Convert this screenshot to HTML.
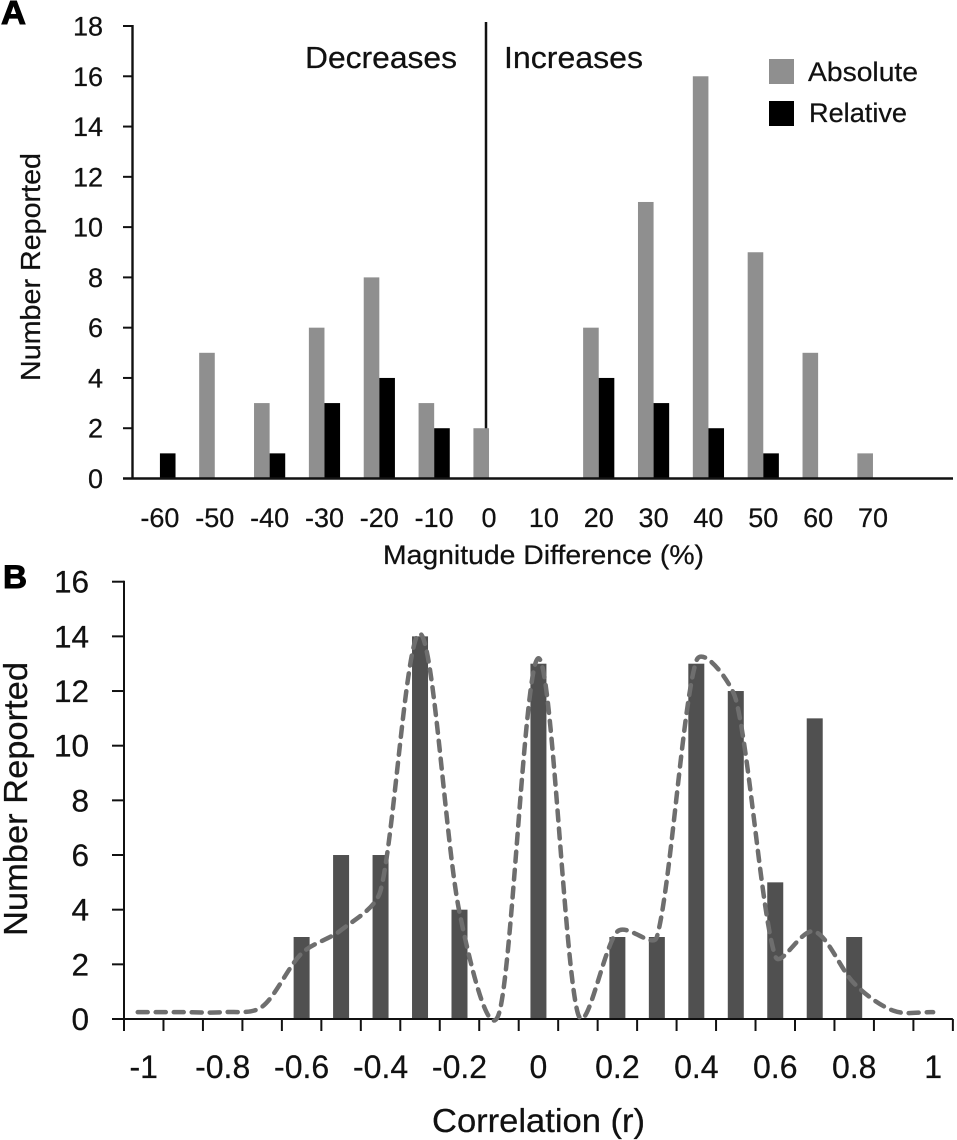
<!DOCTYPE html>
<html lang="en">
<head>
<meta charset="utf-8">
<title>Magnitude difference and correlation histograms</title>
<style>
  html, body { margin: 0; padding: 0; background: #fff; }
  svg { display: block; }
  text { font-family: "Liberation Sans", sans-serif; fill: #111; stroke: #111; stroke-width: 0.25px; }
</style>
</head>
<body>
<svg id="figure" xmlns="http://www.w3.org/2000/svg" width="957" height="1140" viewBox="0 0 957 1140">
  <rect x="0" y="0" width="957" height="1140" fill="#ffffff"/>

  <g id="panelA">
    <text x="1" y="24" font-size="33" font-weight="bold" style="stroke:#000;stroke-width:1px;fill:#000" textLength="25" lengthAdjust="spacingAndGlyphs">A</text>
    <text transform="translate(40 267) rotate(-90)" text-anchor="middle" font-size="28" textLength="228" lengthAdjust="spacingAndGlyphs">Number Reported</text>
    <text x="383" y="564" font-size="27" textLength="321" lengthAdjust="spacingAndGlyphs">Magnitude Difference (%)</text>
    <text x="305" y="68" font-size="31" textLength="152" lengthAdjust="spacingAndGlyphs">Decreases</text>
    <text x="504" y="68" font-size="31" textLength="139" lengthAdjust="spacingAndGlyphs">Increases</text>
    <line x1="486" y1="22" x2="486" y2="478" stroke="#111" stroke-width="2.5"/>
    <rect x="769" y="59" width="25" height="25" fill="#8f8f8f"/>
    <text x="808" y="81" font-size="27" textLength="110" lengthAdjust="spacingAndGlyphs">Absolute</text>
    <rect x="769" y="101" width="25" height="25" fill="#000000"/>
    <text x="809" y="122" font-size="27" textLength="98" lengthAdjust="spacingAndGlyphs">Relative</text>
  </g>

  <g id="panelB">
    <text x="3" y="588" font-size="32" font-weight="bold" style="stroke:#000;stroke-width:1px;fill:#000" textLength="24" lengthAdjust="spacingAndGlyphs">B</text>
    <text transform="translate(27 799) rotate(-90)" text-anchor="middle" font-size="33" textLength="274" lengthAdjust="spacingAndGlyphs">Number Reported</text>
    <text x="432" y="1132" font-size="33" textLength="213" lengthAdjust="spacingAndGlyphs">Correlation (r)</text>
  </g>
</svg>

<script>
// Panel A data
const magnitudeCategories = ["-60", "-50", "-40", "-30", "-20", "-10", "0", "10", "20", "30", "40", "50", "60", "70"];
const absoluteCounts = [0, 5, 3, 6, 8, 3, 2, 0, 6, 11, 16, 9, 5, 1];
const relativeCounts = [1, 0, 1, 3, 4, 2, 0, 0, 4, 3, 2, 1, 0, 0];
const panelATicks = [0, 2, 4, 6, 8, 10, 12, 14, 16, 18];

// Panel B data
const correlationCategories = ["-1", "-0.9", "-0.8", "-0.7", "-0.6", "-0.5", "-0.4", "-0.3", "-0.2", "-0.1", "0", "0.1", "0.2", "0.3", "0.4", "0.5", "0.6", "0.7", "0.8", "0.9", "1"];
const correlationCounts = [0, 0, 0, 0, 3, 6, 6, 14, 4, 0, 13, 0, 3, 3, 13, 12, 5, 11, 3, 0, 0];
const densityCurve = [0.25, 0.25, 0.25, 0.45, 2.4, 3.25, 4.7, 14.1, 3.9, 0.2, 13.2, 0.2, 3.2, 3.0, 13.1, 11.7, 2.3, 3.2, 1.3, 0.3, 0.25];
const panelBTicks = [0, 2, 4, 6, 8, 10, 12, 14, 16];
const panelBLabelled = ["-1", "-0.8", "-0.6", "-0.4", "-0.2", "0", "0.2", "0.4", "0.6", "0.8", "1"];

const SVG_NS = "http://www.w3.org/2000/svg";
const panelA = document.getElementById("panelA");
const panelB = document.getElementById("panelB");

function mk(tag, parent, attrs) {
  const el = document.createElementNS(SVG_NS, tag);
  for (const k in attrs) el.setAttribute(k, attrs[k]);
  parent.appendChild(el);
  return el;
}

// Panel A scales
const aY = v => 478.5 - v * (452.5 / 18);
const aBand = 54.85;
const aCenter = i => 132.5 + aBand * (i + 0.5);
const aBarW = 15.6;

magnitudeCategories.forEach((cat, i) => {
  const c = aCenter(i);
  const g = mk("rect", panelA, { x: c - aBarW, y: aY(absoluteCounts[i]), width: aBarW, height: aY(0) - aY(absoluteCounts[i]), fill: "#8f8f8f" });
  
  
  const b = mk("rect", panelA, { x: c, y: aY(relativeCounts[i]), width: aBarW, height: aY(0) - aY(relativeCounts[i]), fill: "#000000" });
  
  
  const t = mk("text", panelA, { x: c, y: 527, "text-anchor": "middle", "font-size": 27 });
  t.textContent = cat;
  
  
});

panelATicks.forEach(v => {
  const tick = mk("line", panelA, { x1: 123, x2: 132.5, y1: aY(v), y2: aY(v), stroke: "#111", "stroke-width": 2 });
  
  
  const t = mk("text", panelA, { x: 103, y: aY(v) + 9.5, "text-anchor": "end", "font-size": 27 });
  t.textContent = v;
  
  
});

const aYAxis = mk("line", panelA, { x1: 132.5, x2: 132.5, y1: aY(18) - 1, y2: aY(0) + 1, stroke: "#111", "stroke-width": 2.4 });


const aXAxis = mk("line", panelA, { x1: 123, x2: 953, y1: aY(0), y2: aY(0), stroke: "#111", "stroke-width": 2.4 });



// Panel B scales
const bY = v => 1019 - v * (437.3 / 16);
const bBand = 39.47;
const bLeft = 124;
const bCenter = i => bLeft + bBand * (i + 0.5);
const bBarW = 16;

correlationCategories.forEach((cat, i) => {
  const c = bCenter(i);
  const bar = mk("rect", panelB, { x: c - bBarW / 2, y: bY(correlationCounts[i]), width: bBarW, height: bY(0) - bY(correlationCounts[i]), fill: "#505050" });
  
  
  if (panelBLabelled.includes(cat)) {
    const t = mk("text", panelB, { x: c, y: 1078, "text-anchor": "middle", "font-size": 32 });
    t.textContent = cat;
    
    
  }
});

for (let i = 0; i <= correlationCategories.length; i++) {
  const x = bLeft + bBand * i;
  const tick = mk("line", panelB, { x1: x, x2: x, y1: 1019, y2: 1031, stroke: "#111", "stroke-width": 2 });
  
  
}

panelBTicks.forEach(v => {
  const tick = mk("line", panelB, { x1: 112, x2: 124, y1: bY(v), y2: bY(v), stroke: "#111", "stroke-width": 2 });
  
  
  const t = mk("text", panelB, { x: 89, y: bY(v) + 11, "text-anchor": "end", "font-size": 31.5 });
  t.textContent = v;
  
  
});

const bYAxis = mk("line", panelB, { x1: bLeft, x2: bLeft, y1: bY(16) - 1, y2: bY(0) + 1, stroke: "#111", "stroke-width": 2 });


const bXAxis = mk("line", panelB, { x1: 112, x2: bLeft + bBand * correlationCategories.length, y1: 1019, y2: 1019, stroke: "#111", "stroke-width": 2 });



// Smoothed dashed curve: tangent handles scale with the chord of each segment
const pts = densityCurve.map((v, i) => [bCenter(i) - 6 * (i === 0 ? 1 : 0), bY(v)]);
function unitTangent(i) {
  const a = pts[Math.max(i - 1, 0)], b = pts[Math.min(i + 1, pts.length - 1)];
  const dx = b[0] - a[0], dy = b[1] - a[1], len = Math.hypot(dx, dy);
  return [dx / len, dy / len];
}
function handleLength(chord, t) {
  return Math.min(chord * 0.33, (bBand * 0.34) / Math.abs(t[0]));
}
let d = "M" + pts[0][0] + " " + pts[0][1];
for (let i = 0; i < pts.length - 1; i++) {
  const p1 = pts[i], p2 = pts[i + 1];
  const chord = Math.hypot(p2[0] - p1[0], p2[1] - p1[1]);
  const t1 = unitTangent(i), t2 = unitTangent(i + 1);
  const h1 = handleLength(chord, t1), h2 = handleLength(chord, t2);
  d += " C" + (p1[0] + t1[0] * h1).toFixed(2) + " " + (p1[1] + t1[1] * h1).toFixed(2) + " " + (p2[0] - t2[0] * h2).toFixed(2) + " " + (p2[1] - t2[1] * h2).toFixed(2) + " " + p2[0].toFixed(2) + " " + p2[1].toFixed(2);
}
const curve = mk("path", panelB, { d: d, fill: "none", stroke: "#6e6e6e", "stroke-width": 4.5, "stroke-dasharray": "10 8", "stroke-linecap": "round" });


</script>
</body>
</html>
